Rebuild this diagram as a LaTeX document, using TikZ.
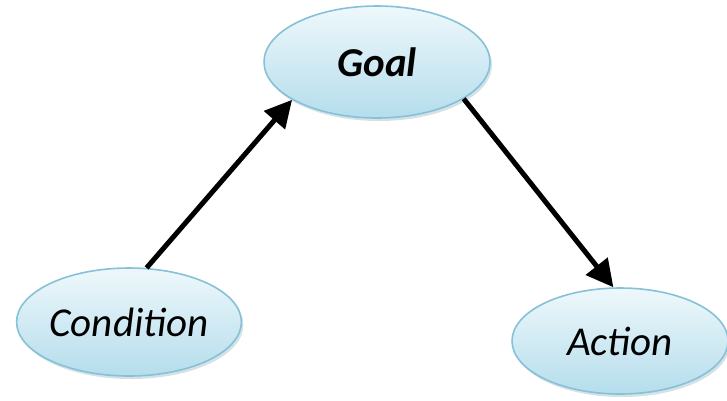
\documentclass[tikz,border=0pt]{standalone}
\usepackage{fontspec}
\setmainfont{Carlito}
\usetikzlibrary{shapes.geometric,shadows,arrows.meta}
\definecolor{rim}{HTML}{86C1D6}
\definecolor{topfill}{HTML}{EEF8FB}
\definecolor{botfill}{HTML}{B5DDEC}
\tikzset{
  bubble/.style={ellipse, draw=rim, line width=1.6pt,
    top color=topfill, bottom color=botfill,
    drop shadow={shadow xshift=2pt, shadow yshift=-3pt, opacity=0.35, fill=rim!70!gray},
    font=\fontsize{41}{45}\selectfont\itshape, inner sep=0pt},
  link/.style={line width=5pt, -{Triangle[length=27pt,width=27pt]}}
}
\begin{document}
\begin{tikzpicture}[x=1pt,y=-1pt]
\useasboundingbox (0,0) rectangle (727,400);
\node[bubble, minimum width=226pt, minimum height=112pt] (goal) at (377,62) {\bfseries Goal};
\node[bubble, minimum width=220pt, minimum height=108pt] (cond) at (129,322) {Condition};
\node[bubble, minimum width=216pt, minimum height=106pt] (act) at (620,341) {Action};
\draw[link] (cond.72) -- (goal.204);
\draw[link] (goal.-23) -- (act.97);
\end{tikzpicture}
\end{document}
